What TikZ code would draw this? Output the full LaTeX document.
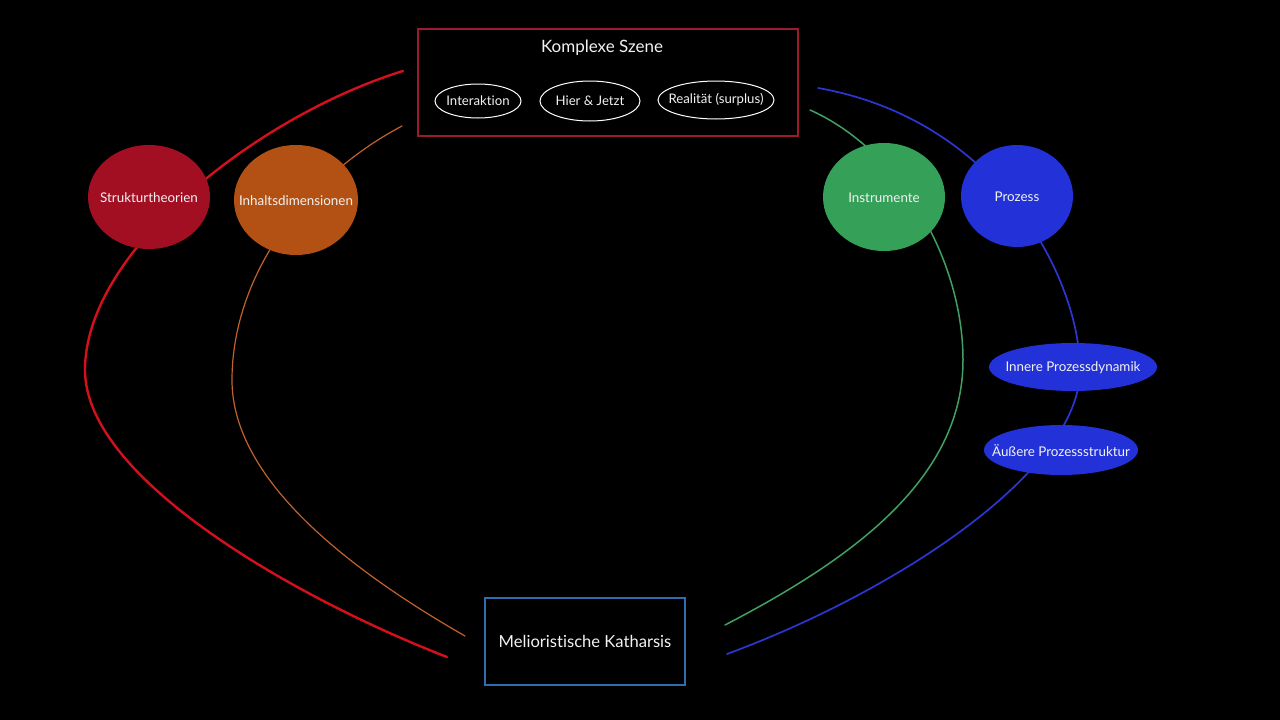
\documentclass[tikz,border=0pt]{standalone}
\usepackage{fontspec}
\setmainfont{Lato}[Ligatures=NoCommon]
\usetikzlibrary{shapes.geometric}
\definecolor{boxred}{HTML}{9B1B2A}
\definecolor{fillred}{HTML}{A20F22}
\definecolor{fillorange}{HTML}{B25113}
\definecolor{fillgreen}{HTML}{34A058}
\definecolor{fillblue}{HTML}{2232D8}
\definecolor{linered}{HTML}{D3101C}
\definecolor{lineorange}{HTML}{C2622C}
\definecolor{linegreen}{HTML}{3FA262}
\definecolor{lineblue}{HTML}{2C36D2}
\definecolor{boxblue}{HTML}{2F6DB0}
\definecolor{txt}{HTML}{F2F2F2}
\tikzset{
  bubble/.style={ellipse, inner sep=0pt, label={[text=txt, font=\fontsize{13.4}{15}\selectfont, yshift=-1pt]center:#1}},
  tag/.style={ellipse, draw=white, line width=1pt, inner sep=0pt, label={[text=txt, font=\fontsize{13.2}{15}\selectfont]center:#1}},
  link/.style={line cap=round}
}
\begin{document}
\begin{tikzpicture}[x=1pt,y=-1pt]
\fill[black] (0,0) rectangle (1280,720);
\useasboundingbox (0,0) rectangle (1280,720);
% curve end points
\coordinate (r1) at (403,71);
\coordinate (r2) at (85,370);
\coordinate (r3) at (447,657);
\coordinate (o1) at (402,126);
\coordinate (o2) at (232,380);
\coordinate (o3) at (465,636);
\coordinate (g1) at (810,110);
\coordinate (g2) at (963,360);
\coordinate (g3) at (725,625);
\coordinate (b1) at (818,88);
\coordinate (b2) at (1080,370);
\coordinate (b3) at (727,654);
% curves (behind nodes)
\draw[link, linered, line width=2.4pt] (r1) .. controls (260,115) and (85,250) .. (r2) .. controls (85,480) and (300,600) .. (r3);
\draw[link, lineorange, line width=1.2pt] (o1) .. controls (300,180) and (232,280) .. (o2) .. controls (232,480) and (350,570) .. (o3);
\draw[link, linegreen, line width=1.5pt] (g1) .. controls (900,150) and (963,260) .. (g2) .. controls (963,480) and (850,560) .. (g3);
\draw[link, lineblue, line width=1.7pt] (b1) .. controls (1000,120) and (1080,280) .. (b2) .. controls (1080,470) and (900,590) .. (b3);
% top box
\node[draw=boxred, line width=1.5pt, minimum width=380pt, minimum height=107pt, inner sep=0pt] (scene) at (608,82.5) {};
\node[text=txt, font=\fontsize{17}{20}\selectfont] (scenetitle) at (602,47.5) {Komplexe Szene};
\node[tag={Interaktion}, minimum width=86pt, minimum height=34pt] (inter) at (478,101) {};
\node[tag={Hier \& Jetzt}, minimum width=100pt, minimum height=40pt] (hier) at (590,101) {};
\node[tag={Realität (surplus)}, minimum width=116pt, minimum height=38pt] (real) at (716,100) {};
% circles
\node[bubble={Strukturtheorien}, fill=fillred, minimum width=122pt, minimum height=104pt] (struk) at (149,197) {};
\node[bubble={Inhaltsdimensionen}, fill=fillorange, minimum width=124pt, minimum height=110pt] (inhalt) at (296,200) {};
\node[bubble={Instrumente}, fill=fillgreen, minimum width=122pt, minimum height=108pt] (instr) at (884,197) {};
\node[bubble={Prozess}, fill=fillblue, minimum width=112pt, minimum height=102pt] (proz) at (1017,196) {};
\node[bubble={Innere Prozessdynamik}, fill=fillblue, minimum width=168pt, minimum height=48pt] (innere) at (1073,367) {};
\node[bubble={Äußere Prozessstruktur}, fill=fillblue, minimum width=154pt, minimum height=50pt] (aussere) at (1061,450) {};
% bottom box
\node[draw=boxblue, line width=1.3pt, minimum width=200pt, minimum height=87pt, inner sep=0pt, text=txt, font=\fontsize{16.6}{19}\selectfont] (kath) at (585,641.5) {Melioristische Katharsis};
\end{tikzpicture}
\end{document}
